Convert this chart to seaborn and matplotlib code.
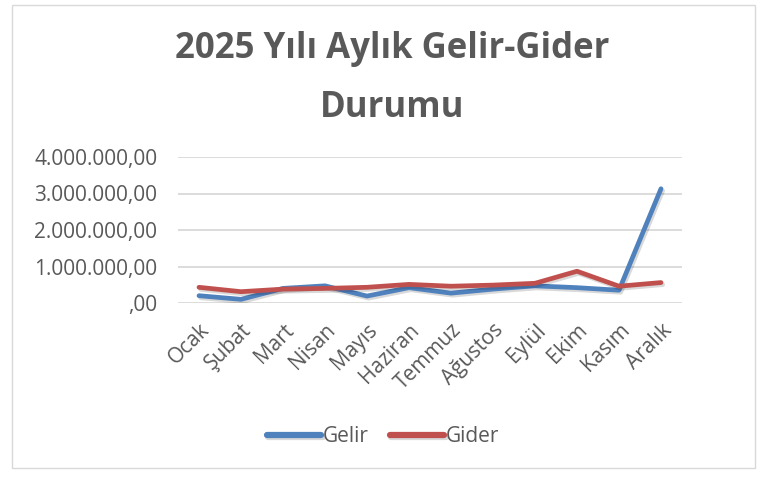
import matplotlib
matplotlib.use("Agg")
import matplotlib.pyplot as plt
import matplotlib.patheffects as pe
from matplotlib.patches import Rectangle
import seaborn as sns
import pandas as pd

months = ["Ocak", "Şubat", "Mart", "Nisan", "Mayıs", "Haziran", "Temmuz",
          "Ağustos", "Eylül", "Ekim", "Kasım", "Aralık"]
gelir = [200000, 100000, 400000, 470000, 190000, 420000, 270000,
         380000, 470000, 420000, 350000, 3130000]
gider = [430000, 310000, 380000, 400000, 430000, 510000, 460000,
         490000, 540000, 870000, 460000, 560000]
series_names = ["Gelir", "Gider"]
yticks = [0, 1000000, 2000000, 3000000, 4000000]
ytick_labels = [",00", "1.000.000,00", "2.000.000,00", "3.000.000,00", "4.000.000,00"]

df = pd.DataFrame({
    "Ay": months * 2,
    "Pos": list(range(len(months))) * 2,
    "Değer": gelir + gider,
    "Seri": [series_names[0]] * len(months) + [series_names[1]] * len(months),
})

sns.set_theme(style="white")
plt.rcParams["font.family"] = ["Open Sans", "DejaVu Sans"]
txt = "#595959"

fig = plt.figure(figsize=(7.66, 4.8), dpi=100)
ax = fig.add_axes([178/766, 1-303/480, (682-178)/766, (303-157)/480])

sns.lineplot(data=df, x="Pos", y="Değer", hue="Seri", palette=["#4f81bd", "#c0504d"],
             linewidth=3.4, ax=ax, legend=True, solid_capstyle="round")
for ln in ax.get_lines():
    ln.set_path_effects([pe.SimpleLineShadow(offset=(1.2, -1.5), alpha=0.15, shadow_color="black"), pe.Normal()])
    ln.set_solid_joinstyle("round")

ax.set_xlim(-0.5, len(months) - 0.5)
ax.set_ylim(0, 4000000)
ax.set_yticks(yticks)
ax.set_yticklabels(ytick_labels, color=txt, fontsize=15)
ax.set_xticks(range(len(months)))
ax.set_xticklabels(months, rotation=45, ha="right", rotation_mode="anchor", color=txt, fontsize=15)
ax.tick_params(axis="y", length=0, pad=15)
ax.tick_params(axis="x", length=0, pad=12)
ax.yaxis.grid(True, color="#d9d9d9", linewidth=1.3)
ax.set_axisbelow(True)
for s in ax.spines.values():
    s.set_visible(False)
ax.set_xlabel("")
ax.set_ylabel("")

h, l = ax.get_legend_handles_labels()
for hh in h:
    hh.set_solid_capstyle("round")
    hh.set_linewidth(4.5)
ax.legend_.remove()
fig.legend(h, l, loc="center", bbox_to_anchor=(383/766, 1-437/480), ncol=2, frameon=False,
           fontsize=15, labelcolor=txt, handlelength=2.6, handletextpad=0.1, columnspacing=1.0)

fig.text(392/766, 1-58/480, "2025 Yılı Aylık Gelir-Gider", ha="center", va="baseline",
         fontsize=25, fontweight="bold", color=txt)
fig.text(392/766, 1-117/480, "Durumu", ha="center", va="baseline",
         fontsize=25, fontweight="bold", color=txt)

fig.patches.append(Rectangle((12/766, 1-468/480), (755-12)/766, (468-5)/480,
                             transform=fig.transFigure, fill=False, edgecolor="#d9d9d9", linewidth=1))

fig.savefig("out.png", dpi=100)
